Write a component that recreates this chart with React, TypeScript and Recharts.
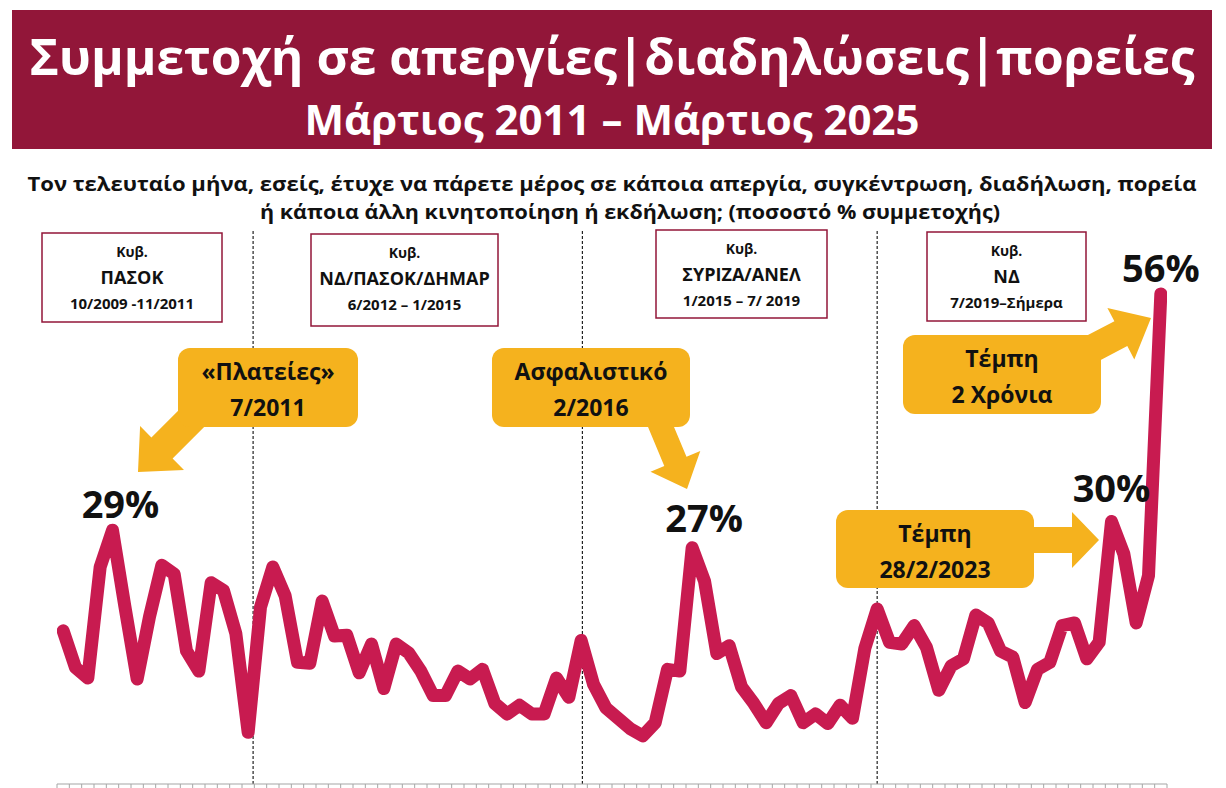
import { LineChart, Line, XAxis, YAxis, ReferenceLine, LabelList } from 'recharts'

// participation % per survey wave, Mar 2011 -> Mar 2025
const values = [
  17.5, 13.3, 12.1, 24.8, 29, 20.3, 12.0, 19.1, 25.0, 24.0,
  15.2, 12.9, 23.0, 22.1, 17.2, 5.9, 20.2, 24.8, 21.5, 13.9,
  13.8, 20.9, 16.9, 17.0, 12.7, 16.0, 10.9, 16.0, 15.0, 12.9,
  10.1, 10.1, 12.9, 12.0, 13.1, 9.2, 8.0, 9.0, 8.0, 8.0,
  12.1, 9.9, 16.4, 11.4, 8.7, 7.5, 6.3, 5.5, 7.0, 13.1,
  12.9, 27, 23.2, 14.9, 15.8, 11.1, 9.2, 7.0, 9.2, 10.1,
  7.0, 8.0, 6.9, 9.0, 7.5, 15.5, 20.0, 16.2, 16.0, 18.1,
  15.6, 10.7, 13.5, 14.3, 19.3, 18.4, 15.2, 14.5, 9.3, 13.1,
  13.9, 18.1, 18.4, 14.3, 16.2, 30, 26.3, 18.4, 23.8, 56,
]
const peakWaves = [4, 51, 85, 89]
const peakTexts = ['29%', '27%', '30%', '56%']
// wave position of each change of government
const govBreaks = [15.4, 42.1, 66.0]

const govNames = ['ΠΑΣΟΚ', 'ΝΔ/ΠΑΣΟΚ/ΔΗΜΑΡ', 'ΣΥΡΙΖΑ/ΑΝΕΛ', 'ΝΔ']
const govDates = ['10/2009 -11/2011', '6/2012 – 1/2015', '1/2015 – 7/ 2019', '7/2019–Σήμερα']
const calloutTop = ['«Πλατείες»', 'Ασφαλιστικό', 'Τέμπη', 'Τέμπη']
const calloutBottom = ['7/2011', '2/2016', '2 Χρόνια', '28/2/2023']

const data = values.map((v, i) => {
  const p = peakWaves.indexOf(i)
  return { wave: i, v, lab: p >= 0 ? peakTexts[p] : '' }
})
const ticks = Array.from({ length: values.length + 1 }, (_, i) => i - 0.5)

const FONT = '"Open Sans", "Noto Sans", sans-serif'
const MAROON = '#921639'
const LINE = '#C81B50'
const GOLD = '#F5B21E'

const labelShift: Record<string, [number, number]> = {
  '29%': [8, -12], '27%': [12, -16], '30%': [0, -19], '56%': [0, -12],
}

function PeakLabel(props: any) {
  const { x, y, value } = props
  if (!value) return null
  const [dx, dy] = labelShift[value] || [0, -14]
  return (
    <text x={x + dx} y={y + dy} textAnchor="middle" fontFamily={FONT} fontWeight={700} fontSize={38} fill="#111">
      {value}
    </text>
  )
}

// block arrow polygon from base point to tip
function arrowPoints(x1: number, y1: number, x2: number, y2: number, shaft: number, head: number, headLen: number) {
  const dx = x2 - x1
  const dy = y2 - y1
  const len = Math.hypot(dx, dy)
  const ux = dx / len
  const uy = dy / len
  const nx = -uy
  const ny = ux
  const bx = x2 - ux * headLen
  const by = y2 - uy * headLen
  const pts = [
    [x1 + nx * shaft / 2, y1 + ny * shaft / 2],
    [bx + nx * shaft / 2, by + ny * shaft / 2],
    [bx + nx * head / 2, by + ny * head / 2],
    [x2, y2],
    [bx - nx * head / 2, by - ny * head / 2],
    [bx - nx * shaft / 2, by - ny * shaft / 2],
    [x1 - nx * shaft / 2, y1 - ny * shaft / 2],
  ]
  return pts.map((p) => p.map((n) => n.toFixed(1)).join(',')).join(' ')
}

const govBoxes = [
  { x: 42, y: 233, w: 180, h: 89 },
  { x: 311, y: 234, w: 187, h: 92 },
  { x: 656, y: 230, w: 171, h: 88 },
  { x: 927, y: 232, w: 159, h: 89 },
]

const callBoxes = [
  { x: 178, y: 348, w: 180, h: 79, arrow: arrowPoints(200, 410, 138, 472, 30, 62, 34) },
  { x: 492, y: 348, w: 198, h: 79, arrow: arrowPoints(656, 415, 687, 489, 24, 54, 30) },
  { x: 903, y: 335, w: 198, h: 79, arrow: arrowPoints(1080, 355, 1151, 318, 28, 58, 34) },
  { x: 836, y: 510, w: 198, h: 78, arrow: arrowPoints(1020, 540, 1099, 540, 26, 56, 27) },
]

function Overlay() {
  return (
    <svg width={1226} height={788} style={{ position: 'absolute', left: 0, top: 0, pointerEvents: 'none' }}>
      <rect x={12} y={10} width={1200} height={139} fill={MAROON} />
      <text x={612} y={56} textAnchor="middle" dominantBaseline="central" fill="#fff" fontFamily={FONT}
        fontWeight={700} fontSize={50} textLength={1165} lengthAdjust="spacingAndGlyphs">
        Συμμετοχή σε απεργίες|διαδηλώσεις|πορείες
      </text>
      <text x={612} y={118} textAnchor="middle" dominantBaseline="central" fill="#fff" fontFamily={FONT}
        fontWeight={700} fontSize={42} textLength={615} lengthAdjust="spacingAndGlyphs">
        Μάρτιος 2011 – Μάρτιος 2025
      </text>
      <text x={612} y={183} textAnchor="middle" dominantBaseline="central" fill="#111" fontFamily={FONT}
        fontWeight={700} fontSize={20} textLength={1169} lengthAdjust="spacingAndGlyphs">
        Τον τελευταίο μήνα, εσείς, έτυχε να πάρετε μέρος σε κάποια απεργία, συγκέντρωση, διαδήλωση, πορεία
      </text>
      <text x={630} y={211} textAnchor="middle" dominantBaseline="central" fill="#111" fontFamily={FONT}
        fontWeight={700} fontSize={20} textLength={740} lengthAdjust="spacingAndGlyphs">
        ή κάποια άλλη κινητοποίηση ή εκδήλωση; (ποσοστό %  συμμετοχής)
      </text>

      {govBoxes.map((b, i) => {
        const cx = b.x + b.w / 2
        return (
          <g key={i} fontFamily={FONT} fontWeight={700} fill="#111" textAnchor="middle">
            <rect x={b.x} y={b.y} width={b.w} height={b.h} fill="#fff" stroke={MAROON} strokeWidth={1.5} />
            <text x={cx} y={b.y + 18} dominantBaseline="central" fontSize={14}>Κυβ.</text>
            <text x={cx} y={b.y + 44} dominantBaseline="central" fontSize={18}>{govNames[i]}</text>
            <text x={cx} y={b.y + 70} dominantBaseline="central" fontSize={15}>{govDates[i]}</text>
          </g>
        )
      })}

      {callBoxes.map((b, i) => {
        const cx = b.x + b.w / 2
        return (
          <g key={i} fontFamily={FONT} fontWeight={700} fill="#111" textAnchor="middle">
            <polygon points={b.arrow} fill={GOLD} />
            <rect x={b.x} y={b.y} width={b.w} height={b.h} rx={12} fill={GOLD} />
            <text x={cx} y={b.y + 23} dominantBaseline="central" fontSize={23}>{calloutTop[i]}</text>
            <text x={cx} y={b.y + 59} dominantBaseline="central" fontSize={23}>{calloutBottom[i]}</text>
          </g>
        )
      })}
    </svg>
  )
}

export default function App() {
  return (
    <div style={{ position: 'absolute', left: 0, top: 0, width: 1226, height: 788, background: '#fff' }}>
      <LineChart width={1226} height={788} data={data} margin={{ top: 230, right: 59, bottom: 0, left: 57 }}>
        <XAxis
          dataKey="wave"
          type="number"
          domain={[-0.5, values.length - 0.5]}
          ticks={ticks}
          interval={0}
          allowDataOverflow
          height={4}
          tickSize={4}
          tickFormatter={() => ''}
          stroke="#a6a6a6"
          tickLine={{ stroke: '#a6a6a6' }}
          axisLine={{ stroke: '#a6a6a6', strokeWidth: 1.2 }}
        />
        <YAxis hide domain={[0, 63.3]} allowDataOverflow />
        {govBreaks.map((g) => (
          <ReferenceLine key={g} x={g} stroke="#222" strokeWidth={1.2} strokeDasharray="3 2" />
        ))}
        <Line
          type="linear"
          dataKey="v"
          stroke={LINE}
          strokeWidth={13}
          strokeLinejoin="round"
          strokeLinecap="round"
          dot={false}
          isAnimationActive={false}
        >
          <LabelList dataKey="lab" content={PeakLabel} />
        </Line>
      </LineChart>
      <Overlay />
    </div>
  )
}
